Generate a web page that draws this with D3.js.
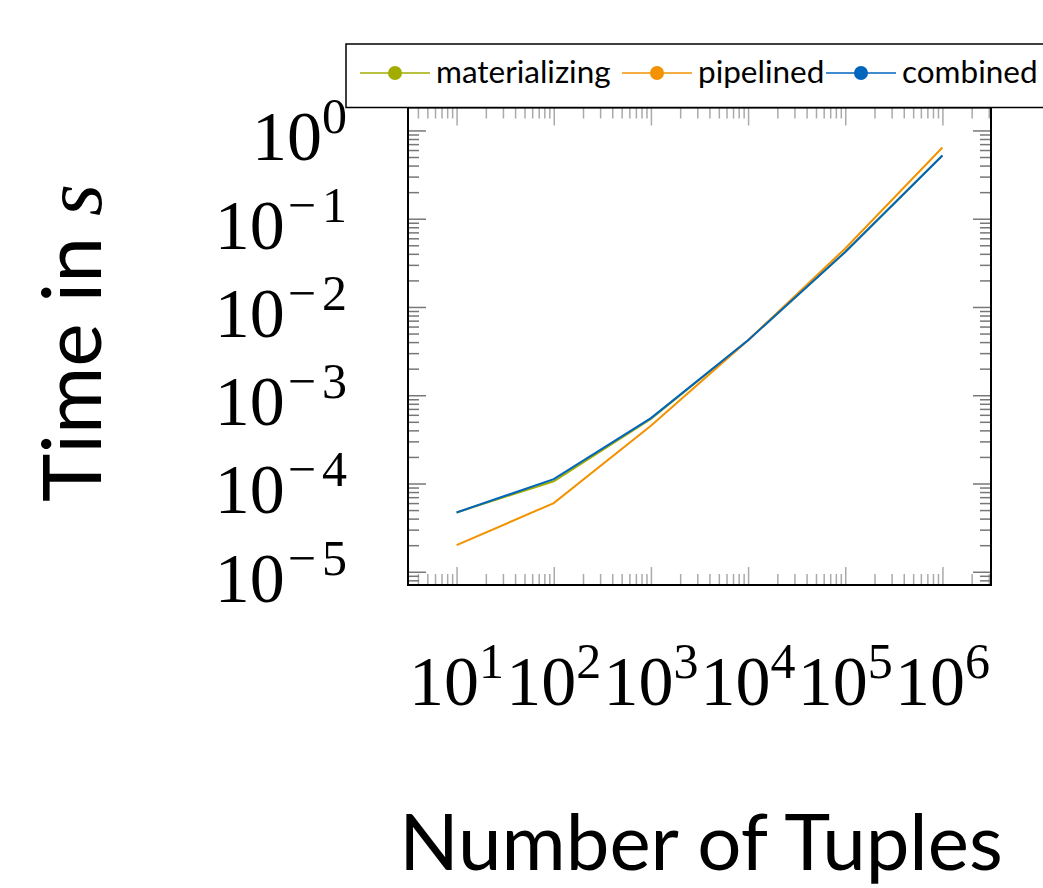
<!DOCTYPE html>
<html>
<head>
<meta charset="utf-8">
<script src="https://cdn.jsdelivr.net/npm/d3@7"></script>
<style>
  body { margin: 0; background: #fff; }
  svg { display: block; }
</style>
</head>
<body>
<div id="chart"></div>
<script>
// data
const tuples = [10, 100, 1000, 10000, 100000, 1000000];
const materializing = [4.7e-5, 1.06e-4, 5.4e-4, 4.2e-3, 0.042, 0.52];
const pipelined = [2.0e-5, 6.0e-5, 4.5e-4, 4.2e-3, 0.046, 0.64];
const combined = [4.7e-5, 1.12e-4, 5.5e-4, 4.2e-3, 0.042, 0.52];
const seriesNames = ['materializing', 'pipelined', 'combined'];
const seriesColors = ['#a2ad00', '#f39200', '#0065bd'];
const xTickExps = [1, 2, 3, 4, 5, 6];
const yTickExps = [0, -1, -2, -3, -4, -5];

const width = 1043, height = 888;
const box = {left: 408, right: 991, top: 107.5, bottom: 585};

const svg = d3.select('#chart').append('svg')
  .attr('width', width)
  .attr('height', height);

const x = d3.scaleLog()
  .domain([Math.pow(10, 0.5), Math.pow(10, 6.5)])
  .range([box.left, box.right]);
const y = d3.scaleLog()
  .domain([Math.pow(10, -5.15), Math.pow(10, 0.26)])
  .range([box.bottom, box.top]);

const majorX = xTickExps.map(e => Math.pow(10, e));
const majorY = yTickExps.map(e => Math.pow(10, e));
const isMajor = v => Math.abs(Math.log10(v) - Math.round(Math.log10(v))) < 1e-9;
const minorX = x.ticks().filter(v => !isMajor(v));
const minorY = y.ticks().filter(v => !isMajor(v));

// ticks on all four sides, pointing inward
function tickAxis(axisFn, scale, vals, size, tx, ty, color) {
  const g = svg.append('g')
    .attr('transform', `translate(${tx},${ty})`)
    .call(axisFn(scale).tickValues(vals).tickSize(-size).tickFormat(''));
  g.select('.domain').remove();
  g.selectAll('line').attr('stroke', color).attr('stroke-width', 1.5);
}
tickAxis(d3.axisBottom, x, minorX, 11, 0, box.bottom, '#aaa');
tickAxis(d3.axisBottom, x, majorX, 18, 0, box.bottom, '#aaa');
tickAxis(d3.axisTop, x, minorX, 11, 0, box.top, '#aaa');
tickAxis(d3.axisTop, x, majorX, 18, 0, box.top, '#aaa');
tickAxis(d3.axisLeft, y, minorY, 11, box.left, 0, '#777');
tickAxis(d3.axisLeft, y, majorY, 18, box.left, 0, '#777');
tickAxis(d3.axisRight, y, minorY, 11, box.right, 0, '#777');
tickAxis(d3.axisRight, y, majorY, 18, box.right, 0, '#777');

// lines
const line = d3.line()
  .x((d, i) => x(tuples[i]))
  .y(d => y(d));

[materializing, pipelined, combined].forEach((vals, i) => {
  svg.append('path')
    .datum(vals)
    .attr('d', line)
    .attr('fill', 'none')
    .attr('stroke', seriesColors[i])
    .attr('stroke-width', 2);
});

// frame
svg.append('rect')
  .attr('x', box.left)
  .attr('y', box.top)
  .attr('width', box.right - box.left)
  .attr('height', box.bottom - box.top)
  .attr('fill', 'none')
  .attr('stroke', '#000')
  .attr('stroke-width', 2);

const serif = "'Liberation Serif', 'DejaVu Serif', serif";
const sans = "Lato, 'Open Sans', sans-serif";

// x tick labels
xTickExps.forEach(e => {
  const t = svg.append('text')
    .attr('x', x(Math.pow(10, e)))
    .attr('y', 705)
    .attr('text-anchor', 'middle')
    .attr('font-family', serif)
    .attr('font-size', 70);
  t.append('tspan').text('10');
  t.append('tspan').attr('dy', -27).attr('font-size', 50).text(e);
});

// y tick labels (TeX-like wide minus)
yTickExps.forEach(e => {
  const t = svg.append('text')
    .attr('x', 347)
    .attr('y', y(Math.pow(10, e)) + 30)
    .attr('text-anchor', 'end')
    .attr('font-family', serif)
    .attr('font-size', 70);
  t.append('tspan').text('10');
  if (e < 0) {
    t.append('tspan').attr('dy', -27).attr('dx', 3).attr('font-size', 50).text('\u2212');
    t.append('tspan').attr('dx', 6).attr('font-size', 50).text(-e);
  } else {
    t.append('tspan').attr('dy', -27).attr('font-size', 50).text(e);
  }
});

// axis titles
svg.append('text')
  .attr('x', 701)
  .attr('y', 870)
  .attr('text-anchor', 'middle')
  .attr('font-family', sans)
  .attr('font-size', 78)
  .text('Number of Tuples');

const yl = svg.append('text')
  .attr('transform', 'translate(101,343) rotate(-90)')
  .attr('text-anchor', 'middle')
  .attr('font-family', sans)
  .attr('font-size', 82);
yl.append('tspan').text('Time in ');
yl.append('tspan')
  .attr('font-family', serif)
  .attr('font-style', 'italic')
  .text('s');

// legend
svg.append('rect')
  .attr('x', 346)
  .attr('y', 44)
  .attr('width', 720)
  .attr('height', box.top - 44)
  .attr('fill', '#fff')
  .attr('stroke', '#000')
  .attr('stroke-width', 1.5);

const legendX = [360, 622, 826];
seriesNames.forEach((name, i) => {
  const g = svg.append('g').attr('transform', `translate(${legendX[i]},73)`);
  g.append('line')
    .attr('x1', 0).attr('x2', 70)
    .attr('stroke', seriesColors[i])
    .attr('stroke-width', 1.5);
  g.append('circle')
    .attr('cx', 35).attr('r', 7)
    .attr('fill', seriesColors[i]);
  g.append('text')
    .attr('x', 76)
    .attr('y', 10)
    .attr('font-family', sans)
    .attr('font-size', 31.5)
    .text(name);
});
</script>
</body>
</html>
